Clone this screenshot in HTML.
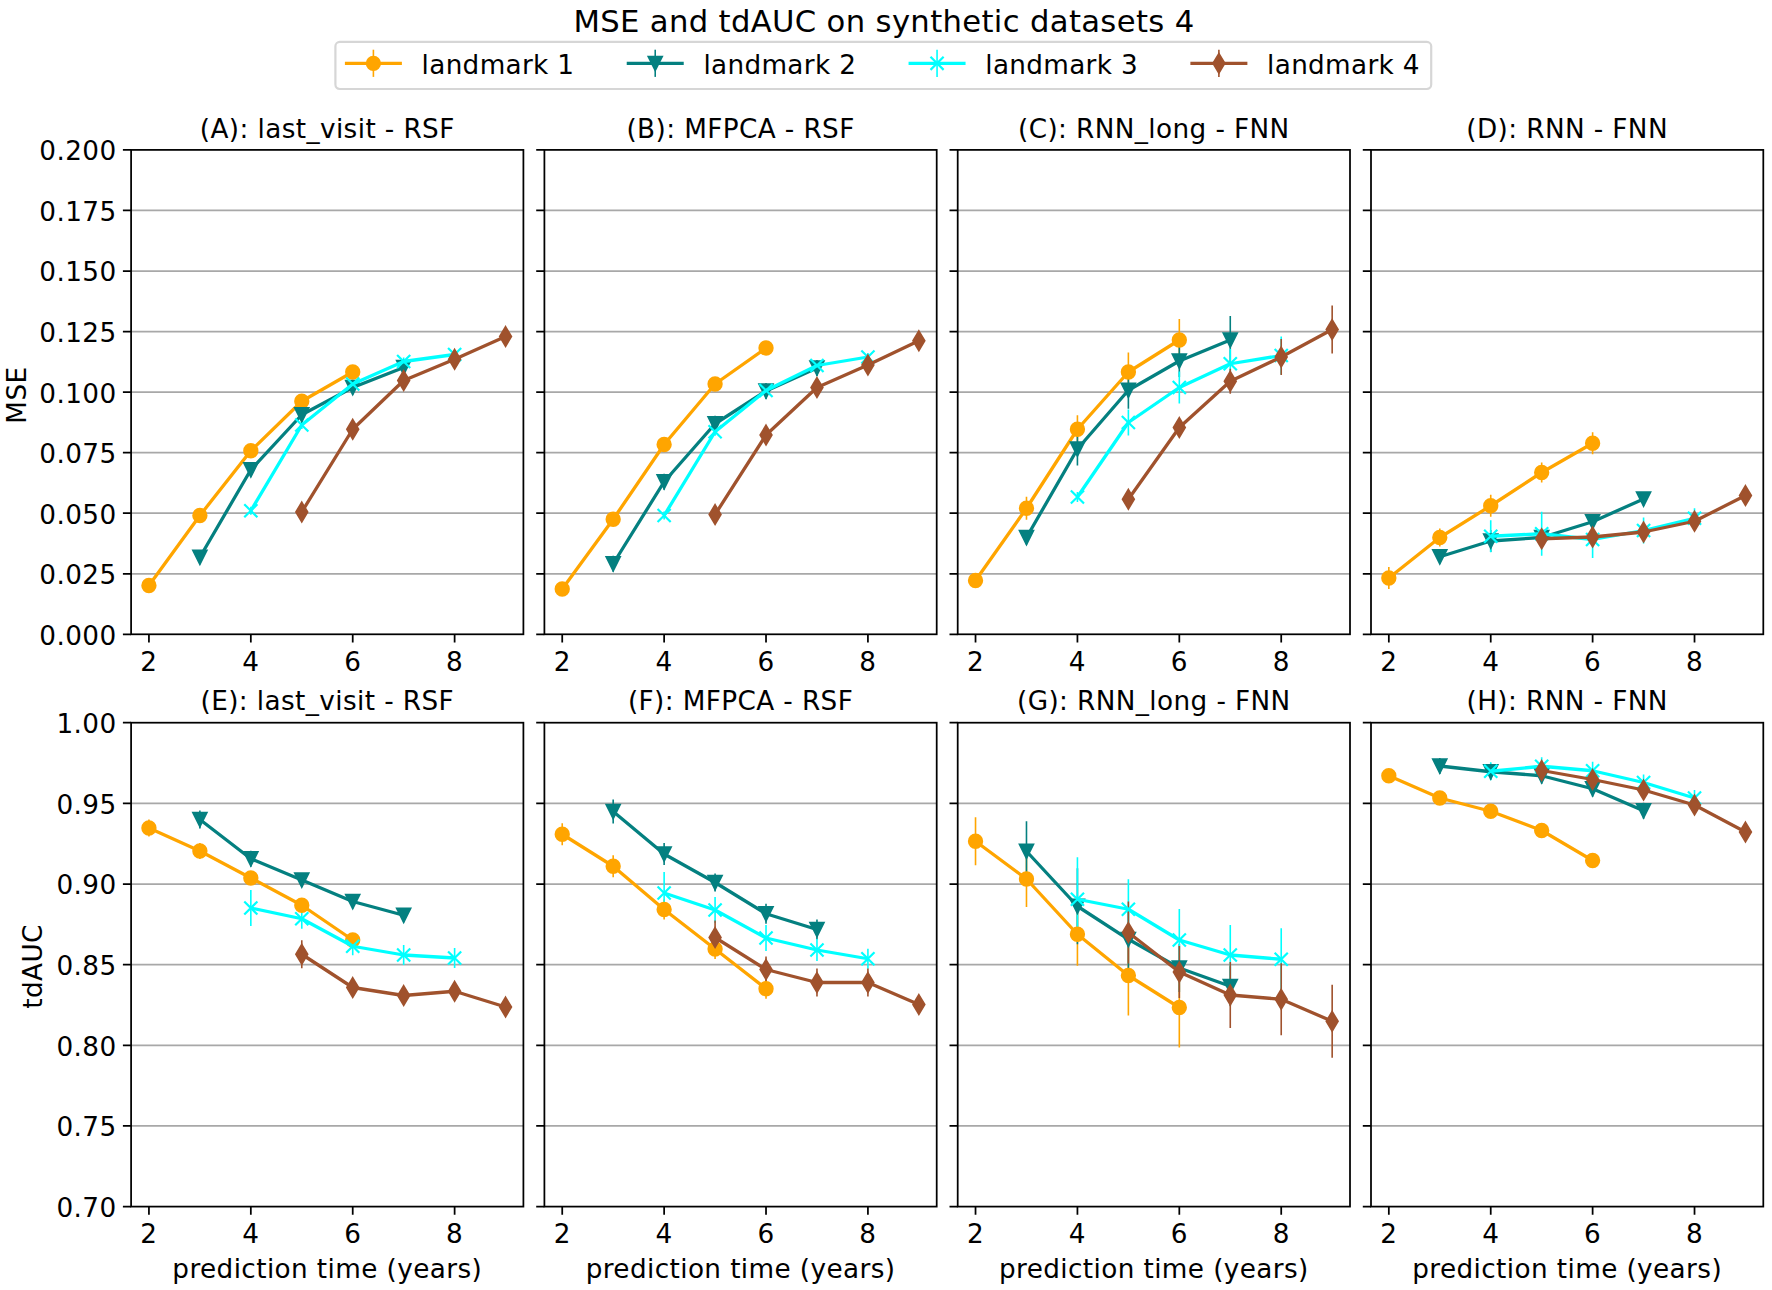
<!DOCTYPE html>
<html lang="en">
<head>
<meta charset="utf-8">
<title>MSE and tdAUC on synthetic datasets 4</title>
<style>
html,body{margin:0;padding:0;background:#fff;}
body{width:1772px;height:1290px;overflow:hidden;}
svg{display:block;}
</style>
</head>
<body>
<svg width="1772" height="1290" viewBox="0 0 1772 1290">
<rect width="1772" height="1290" fill="#fff"/>
<g font-family="'DejaVu Sans', 'Liberation Sans', sans-serif" fill="#000" letter-spacing="0.4">
<text x="883.95" y="32" font-size="30.66" text-anchor="middle" letter-spacing="0.34">MSE and tdAUC on synthetic datasets 4</text>
<rect x="335.4" y="41.9" width="1095.8" height="47.1" rx="4.4" ry="4.4" fill="#fff" fill-opacity="0.8" stroke="#cccccc" stroke-opacity="0.8" stroke-width="2.19"/>
<g>
<path d="M373.4 49.7V76.9" stroke="#ffa500" stroke-width="1.6" fill="none"/>
<path d="M344.9 63.3H401.9" stroke="#ffa500" stroke-width="3.29" fill="none"/>
<circle cx="373.4" cy="63.3" r="6.57" fill="#ffa500" stroke="#ffa500" stroke-width="2.19"/>
<text x="421.6" y="73.6" font-size="26.28" letter-spacing="0.33">landmark 1</text>
</g>
<g>
<path d="M655.23 49.7V76.9" stroke="#048080" stroke-width="1.6" fill="none"/>
<path d="M626.73 63.3H683.73" stroke="#048080" stroke-width="3.29" fill="none"/>
<polygon points="648.66,56.73 661.8,56.73 655.23,69.87" fill="#048080" stroke="#048080" stroke-width="2.19" stroke-linejoin="miter"/>
<text x="703.43" y="73.6" font-size="26.28" letter-spacing="0.33">landmark 2</text>
</g>
<g>
<path d="M937.06 49.7V76.9" stroke="#00ffff" stroke-width="1.6" fill="none"/>
<path d="M908.56 63.3H965.56" stroke="#00ffff" stroke-width="3.29" fill="none"/>
<path d="M930.49 56.73L943.63 69.87M930.49 69.87L943.63 56.73" stroke="#00ffff" stroke-width="2.19" fill="none"/>
<text x="985.26" y="73.6" font-size="26.28" letter-spacing="0.33">landmark 3</text>
</g>
<g>
<path d="M1218.89 49.7V76.9" stroke="#a0522d" stroke-width="1.6" fill="none"/>
<path d="M1190.39 63.3H1247.39" stroke="#a0522d" stroke-width="3.29" fill="none"/>
<polygon points="1218.89,54.01 1224.46,63.3 1218.89,72.59 1213.32,63.3" fill="#a0522d" stroke="#a0522d" stroke-width="2.19" stroke-linejoin="miter"/>
<text x="1267.09" y="73.6" font-size="26.28" letter-spacing="0.33">landmark 4</text>
</g>
<g>
<path d="M131.1 210.45H523.4M131.1 271H523.4M131.1 331.55H523.4M131.1 392.1H523.4M131.1 452.65H523.4M131.1 513.2H523.4M131.1 573.75H523.4" stroke="#a8a8a8" stroke-width="1.75" fill="none"/>
<path d="M131.1 149.9h-8.2M131.1 210.45h-8.2M131.1 271h-8.2M131.1 331.55h-8.2M131.1 392.1h-8.2M131.1 452.65h-8.2M131.1 513.2h-8.2M131.1 573.75h-8.2M131.1 634.3h-8.2M148.93 634.3v8.2M250.83 634.3v8.2M352.72 634.3v8.2M454.62 634.3v8.2" stroke="#000" stroke-width="1.75" fill="none"/>
<path d="M148.93 582.5V588.5M199.88 512.5V518.5M250.83 447.75V453.75M301.78 398.25V404.25M352.72 369V375" stroke="#ffa500" stroke-width="1.6" fill="none"/>
<path d="M199.88 550.25V564.25M250.83 462.75V476.75M301.78 407.75V421.75M352.72 380.5V394.5M403.67 360.5V374.5" stroke="#048080" stroke-width="1.6" fill="none"/>
<path d="M250.83 506.75V514.75M301.78 421V429M352.72 380V388M403.67 357.5V365.5M454.62 350.5V358.5" stroke="#00ffff" stroke-width="1.6" fill="none"/>
<path d="M301.78 506V518M352.72 423.25V435.25M403.67 374.5V386.5M454.62 353.25V365.25M505.57 330.5V342.5" stroke="#a0522d" stroke-width="1.6" fill="none"/>
<polyline points="148.93,585.5 199.88,515.5 250.83,450.75 301.78,401.25 352.72,372" stroke="#ffa500" stroke-width="3.29" fill="none" stroke-linejoin="round" stroke-linecap="butt"/>
<circle cx="148.93" cy="585.5" r="6.57" fill="#ffa500" stroke="#ffa500" stroke-width="2.19"/>
<circle cx="199.88" cy="515.5" r="6.57" fill="#ffa500" stroke="#ffa500" stroke-width="2.19"/>
<circle cx="250.83" cy="450.75" r="6.57" fill="#ffa500" stroke="#ffa500" stroke-width="2.19"/>
<circle cx="301.78" cy="401.25" r="6.57" fill="#ffa500" stroke="#ffa500" stroke-width="2.19"/>
<circle cx="352.72" cy="372" r="6.57" fill="#ffa500" stroke="#ffa500" stroke-width="2.19"/>
<polyline points="199.88,557.25 250.83,469.75 301.78,414.75 352.72,387.5 403.67,367.5" stroke="#048080" stroke-width="3.29" fill="none" stroke-linejoin="round" stroke-linecap="butt"/>
<polygon points="193.31,550.68 206.45,550.68 199.88,563.82" fill="#048080" stroke="#048080" stroke-width="2.19" stroke-linejoin="miter"/>
<polygon points="244.26,463.18 257.4,463.18 250.83,476.32" fill="#048080" stroke="#048080" stroke-width="2.19" stroke-linejoin="miter"/>
<polygon points="295.21,408.18 308.35,408.18 301.78,421.32" fill="#048080" stroke="#048080" stroke-width="2.19" stroke-linejoin="miter"/>
<polygon points="346.15,380.93 359.29,380.93 352.72,394.07" fill="#048080" stroke="#048080" stroke-width="2.19" stroke-linejoin="miter"/>
<polygon points="397.1,360.93 410.24,360.93 403.67,374.07" fill="#048080" stroke="#048080" stroke-width="2.19" stroke-linejoin="miter"/>
<polyline points="250.83,510.75 301.78,425 352.72,384 403.67,361.5 454.62,354.5" stroke="#00ffff" stroke-width="3.29" fill="none" stroke-linejoin="round" stroke-linecap="butt"/>
<path d="M244.26 504.18L257.4 517.32M244.26 517.32L257.4 504.18" stroke="#00ffff" stroke-width="2.19" fill="none"/>
<path d="M295.21 418.43L308.35 431.57M295.21 431.57L308.35 418.43" stroke="#00ffff" stroke-width="2.19" fill="none"/>
<path d="M346.15 377.43L359.29 390.57M346.15 390.57L359.29 377.43" stroke="#00ffff" stroke-width="2.19" fill="none"/>
<path d="M397.1 354.93L410.24 368.07M397.1 368.07L410.24 354.93" stroke="#00ffff" stroke-width="2.19" fill="none"/>
<path d="M448.05 347.93L461.19 361.07M448.05 361.07L461.19 347.93" stroke="#00ffff" stroke-width="2.19" fill="none"/>
<polyline points="301.78,512 352.72,429.25 403.67,380.5 454.62,359.25 505.57,336.5" stroke="#a0522d" stroke-width="3.29" fill="none" stroke-linejoin="round" stroke-linecap="butt"/>
<polygon points="301.78,502.71 307.35,512 301.78,521.29 296.2,512" fill="#a0522d" stroke="#a0522d" stroke-width="2.19" stroke-linejoin="miter"/>
<polygon points="352.72,419.96 358.3,429.25 352.72,438.54 347.15,429.25" fill="#a0522d" stroke="#a0522d" stroke-width="2.19" stroke-linejoin="miter"/>
<polygon points="403.67,371.21 409.25,380.5 403.67,389.79 398.1,380.5" fill="#a0522d" stroke="#a0522d" stroke-width="2.19" stroke-linejoin="miter"/>
<polygon points="454.62,349.96 460.19,359.25 454.62,368.54 449.05,359.25" fill="#a0522d" stroke="#a0522d" stroke-width="2.19" stroke-linejoin="miter"/>
<polygon points="505.57,327.21 511.14,336.5 505.57,345.79 499.99,336.5" fill="#a0522d" stroke="#a0522d" stroke-width="2.19" stroke-linejoin="miter"/>
<rect x="131.1" y="149.9" width="392.3" height="484.4" fill="none" stroke="#000" stroke-width="1.75"/>
<text x="327.25" y="137.5" font-size="26.28" text-anchor="middle" letter-spacing="0.4">(A): last_visit - RSF</text>
<text x="148.93" y="670.5" font-size="26.28" text-anchor="middle">2</text>
<text x="250.83" y="670.5" font-size="26.28" text-anchor="middle">4</text>
<text x="352.72" y="670.5" font-size="26.28" text-anchor="middle">6</text>
<text x="454.62" y="670.5" font-size="26.28" text-anchor="middle">8</text>
<text x="116.5" y="160.3" font-size="26.28" text-anchor="end">0.200</text>
<text x="116.5" y="220.85" font-size="26.28" text-anchor="end">0.175</text>
<text x="116.5" y="281.4" font-size="26.28" text-anchor="end">0.150</text>
<text x="116.5" y="341.95" font-size="26.28" text-anchor="end">0.125</text>
<text x="116.5" y="402.5" font-size="26.28" text-anchor="end">0.100</text>
<text x="116.5" y="463.05" font-size="26.28" text-anchor="end">0.075</text>
<text x="116.5" y="523.6" font-size="26.28" text-anchor="end">0.050</text>
<text x="116.5" y="584.15" font-size="26.28" text-anchor="end">0.025</text>
<text x="116.5" y="644.7" font-size="26.28" text-anchor="end">0.000</text>
<text transform="translate(25.9 395.1) rotate(-90)" font-size="26.28" text-anchor="middle">MSE</text>
</g>
<g>
<path d="M544.4 210.45H936.7M544.4 271H936.7M544.4 331.55H936.7M544.4 392.1H936.7M544.4 452.65H936.7M544.4 513.2H936.7M544.4 573.75H936.7" stroke="#a8a8a8" stroke-width="1.75" fill="none"/>
<path d="M544.4 149.9h-8.2M544.4 210.45h-8.2M544.4 271h-8.2M544.4 331.55h-8.2M544.4 392.1h-8.2M544.4 452.65h-8.2M544.4 513.2h-8.2M544.4 573.75h-8.2M544.4 634.3h-8.2M562.23 634.3v8.2M664.13 634.3v8.2M766.02 634.3v8.2M867.92 634.3v8.2" stroke="#000" stroke-width="1.75" fill="none"/>
<path d="M562.23 586V592M613.18 516.25V522.25M664.13 441.5V447.5M715.08 381V387M766.02 345V351" stroke="#ffa500" stroke-width="1.6" fill="none"/>
<path d="M613.18 555.75V571.75M664.13 473.75V489.75M715.08 415.75V431.75M766.02 383V399M816.97 360V376" stroke="#048080" stroke-width="1.6" fill="none"/>
<path d="M664.13 511.5V519.5M715.08 427.75V435.75M766.02 386.5V394.5M816.97 361.5V369.5M867.92 353V361" stroke="#00ffff" stroke-width="1.6" fill="none"/>
<path d="M715.08 508.5V520.5M766.02 429V441M816.97 381.5V393.5M867.92 359V371M918.87 334.75V346.75" stroke="#a0522d" stroke-width="1.6" fill="none"/>
<polyline points="562.23,589 613.18,519.25 664.13,444.5 715.08,384 766.02,348" stroke="#ffa500" stroke-width="3.29" fill="none" stroke-linejoin="round" stroke-linecap="butt"/>
<circle cx="562.23" cy="589" r="6.57" fill="#ffa500" stroke="#ffa500" stroke-width="2.19"/>
<circle cx="613.18" cy="519.25" r="6.57" fill="#ffa500" stroke="#ffa500" stroke-width="2.19"/>
<circle cx="664.13" cy="444.5" r="6.57" fill="#ffa500" stroke="#ffa500" stroke-width="2.19"/>
<circle cx="715.08" cy="384" r="6.57" fill="#ffa500" stroke="#ffa500" stroke-width="2.19"/>
<circle cx="766.02" cy="348" r="6.57" fill="#ffa500" stroke="#ffa500" stroke-width="2.19"/>
<polyline points="613.18,563.75 664.13,481.75 715.08,423.75 766.02,391 816.97,368" stroke="#048080" stroke-width="3.29" fill="none" stroke-linejoin="round" stroke-linecap="butt"/>
<polygon points="606.61,557.18 619.75,557.18 613.18,570.32" fill="#048080" stroke="#048080" stroke-width="2.19" stroke-linejoin="miter"/>
<polygon points="657.56,475.18 670.7,475.18 664.13,488.32" fill="#048080" stroke="#048080" stroke-width="2.19" stroke-linejoin="miter"/>
<polygon points="708.51,417.18 721.65,417.18 715.08,430.32" fill="#048080" stroke="#048080" stroke-width="2.19" stroke-linejoin="miter"/>
<polygon points="759.45,384.43 772.59,384.43 766.02,397.57" fill="#048080" stroke="#048080" stroke-width="2.19" stroke-linejoin="miter"/>
<polygon points="810.4,361.43 823.54,361.43 816.97,374.57" fill="#048080" stroke="#048080" stroke-width="2.19" stroke-linejoin="miter"/>
<polyline points="664.13,515.5 715.08,431.75 766.02,390.5 816.97,365.5 867.92,357" stroke="#00ffff" stroke-width="3.29" fill="none" stroke-linejoin="round" stroke-linecap="butt"/>
<path d="M657.56 508.93L670.7 522.07M657.56 522.07L670.7 508.93" stroke="#00ffff" stroke-width="2.19" fill="none"/>
<path d="M708.51 425.18L721.65 438.32M708.51 438.32L721.65 425.18" stroke="#00ffff" stroke-width="2.19" fill="none"/>
<path d="M759.45 383.93L772.59 397.07M759.45 397.07L772.59 383.93" stroke="#00ffff" stroke-width="2.19" fill="none"/>
<path d="M810.4 358.93L823.54 372.07M810.4 372.07L823.54 358.93" stroke="#00ffff" stroke-width="2.19" fill="none"/>
<path d="M861.35 350.43L874.49 363.57M861.35 363.57L874.49 350.43" stroke="#00ffff" stroke-width="2.19" fill="none"/>
<polyline points="715.08,514.5 766.02,435 816.97,387.5 867.92,365 918.87,340.75" stroke="#a0522d" stroke-width="3.29" fill="none" stroke-linejoin="round" stroke-linecap="butt"/>
<polygon points="715.08,505.21 720.65,514.5 715.08,523.79 709.5,514.5" fill="#a0522d" stroke="#a0522d" stroke-width="2.19" stroke-linejoin="miter"/>
<polygon points="766.02,425.71 771.6,435 766.02,444.29 760.45,435" fill="#a0522d" stroke="#a0522d" stroke-width="2.19" stroke-linejoin="miter"/>
<polygon points="816.97,378.21 822.55,387.5 816.97,396.79 811.4,387.5" fill="#a0522d" stroke="#a0522d" stroke-width="2.19" stroke-linejoin="miter"/>
<polygon points="867.92,355.71 873.49,365 867.92,374.29 862.35,365" fill="#a0522d" stroke="#a0522d" stroke-width="2.19" stroke-linejoin="miter"/>
<polygon points="918.87,331.46 924.44,340.75 918.87,350.04 913.29,340.75" fill="#a0522d" stroke="#a0522d" stroke-width="2.19" stroke-linejoin="miter"/>
<rect x="544.4" y="149.9" width="392.3" height="484.4" fill="none" stroke="#000" stroke-width="1.75"/>
<text x="740.55" y="137.5" font-size="26.28" text-anchor="middle" letter-spacing="0.4">(B): MFPCA - RSF</text>
<text x="562.23" y="670.5" font-size="26.28" text-anchor="middle">2</text>
<text x="664.13" y="670.5" font-size="26.28" text-anchor="middle">4</text>
<text x="766.02" y="670.5" font-size="26.28" text-anchor="middle">6</text>
<text x="867.92" y="670.5" font-size="26.28" text-anchor="middle">8</text>
</g>
<g>
<path d="M957.7 210.45H1350M957.7 271H1350M957.7 331.55H1350M957.7 392.1H1350M957.7 452.65H1350M957.7 513.2H1350M957.7 573.75H1350" stroke="#a8a8a8" stroke-width="1.75" fill="none"/>
<path d="M957.7 149.9h-8.2M957.7 210.45h-8.2M957.7 271h-8.2M957.7 331.55h-8.2M957.7 392.1h-8.2M957.7 452.65h-8.2M957.7 513.2h-8.2M957.7 573.75h-8.2M957.7 634.3h-8.2M975.53 634.3v8.2M1077.43 634.3v8.2M1179.32 634.3v8.2M1281.22 634.3v8.2" stroke="#000" stroke-width="1.75" fill="none"/>
<path d="M975.53 574.5V586.5M1026.48 496.75V519.75M1077.43 415.25V443.25M1128.38 352.5V391.5M1179.32 319V361" stroke="#ffa500" stroke-width="1.6" fill="none"/>
<path d="M1026.48 530.5V544.5M1077.43 432.5V465.5M1128.38 371.75V408.75M1179.32 345V377M1230.27 316V364" stroke="#048080" stroke-width="1.6" fill="none"/>
<path d="M1077.43 492V502M1128.38 409.5V435.5M1179.32 371.5V403.5M1230.27 348.75V378.75M1281.22 336.5V374.5" stroke="#00ffff" stroke-width="1.6" fill="none"/>
<path d="M1128.38 491.25V507.25M1179.32 418.5V436.5M1230.27 368.75V393.75M1281.22 339V375M1332.17 305.5V353.5" stroke="#a0522d" stroke-width="1.6" fill="none"/>
<polyline points="975.53,580.5 1026.48,508.25 1077.43,429.25 1128.38,372 1179.32,340" stroke="#ffa500" stroke-width="3.29" fill="none" stroke-linejoin="round" stroke-linecap="butt"/>
<circle cx="975.53" cy="580.5" r="6.57" fill="#ffa500" stroke="#ffa500" stroke-width="2.19"/>
<circle cx="1026.48" cy="508.25" r="6.57" fill="#ffa500" stroke="#ffa500" stroke-width="2.19"/>
<circle cx="1077.43" cy="429.25" r="6.57" fill="#ffa500" stroke="#ffa500" stroke-width="2.19"/>
<circle cx="1128.38" cy="372" r="6.57" fill="#ffa500" stroke="#ffa500" stroke-width="2.19"/>
<circle cx="1179.32" cy="340" r="6.57" fill="#ffa500" stroke="#ffa500" stroke-width="2.19"/>
<polyline points="1026.48,537.5 1077.43,449 1128.38,390.25 1179.32,361 1230.27,340" stroke="#048080" stroke-width="3.29" fill="none" stroke-linejoin="round" stroke-linecap="butt"/>
<polygon points="1019.91,530.93 1033.05,530.93 1026.48,544.07" fill="#048080" stroke="#048080" stroke-width="2.19" stroke-linejoin="miter"/>
<polygon points="1070.86,442.43 1084,442.43 1077.43,455.57" fill="#048080" stroke="#048080" stroke-width="2.19" stroke-linejoin="miter"/>
<polygon points="1121.81,383.68 1134.95,383.68 1128.38,396.82" fill="#048080" stroke="#048080" stroke-width="2.19" stroke-linejoin="miter"/>
<polygon points="1172.75,354.43 1185.89,354.43 1179.32,367.57" fill="#048080" stroke="#048080" stroke-width="2.19" stroke-linejoin="miter"/>
<polygon points="1223.7,333.43 1236.84,333.43 1230.27,346.57" fill="#048080" stroke="#048080" stroke-width="2.19" stroke-linejoin="miter"/>
<polyline points="1077.43,497 1128.38,422.5 1179.32,387.5 1230.27,363.75 1281.22,355.5" stroke="#00ffff" stroke-width="3.29" fill="none" stroke-linejoin="round" stroke-linecap="butt"/>
<path d="M1070.86 490.43L1084 503.57M1070.86 503.57L1084 490.43" stroke="#00ffff" stroke-width="2.19" fill="none"/>
<path d="M1121.81 415.93L1134.95 429.07M1121.81 429.07L1134.95 415.93" stroke="#00ffff" stroke-width="2.19" fill="none"/>
<path d="M1172.75 380.93L1185.89 394.07M1172.75 394.07L1185.89 380.93" stroke="#00ffff" stroke-width="2.19" fill="none"/>
<path d="M1223.7 357.18L1236.84 370.32M1223.7 370.32L1236.84 357.18" stroke="#00ffff" stroke-width="2.19" fill="none"/>
<path d="M1274.65 348.93L1287.79 362.07M1274.65 362.07L1287.79 348.93" stroke="#00ffff" stroke-width="2.19" fill="none"/>
<polyline points="1128.38,499.25 1179.32,427.5 1230.27,381.25 1281.22,357 1332.17,329.5" stroke="#a0522d" stroke-width="3.29" fill="none" stroke-linejoin="round" stroke-linecap="butt"/>
<polygon points="1128.38,489.96 1133.95,499.25 1128.38,508.54 1122.8,499.25" fill="#a0522d" stroke="#a0522d" stroke-width="2.19" stroke-linejoin="miter"/>
<polygon points="1179.32,418.21 1184.9,427.5 1179.32,436.79 1173.75,427.5" fill="#a0522d" stroke="#a0522d" stroke-width="2.19" stroke-linejoin="miter"/>
<polygon points="1230.27,371.96 1235.85,381.25 1230.27,390.54 1224.7,381.25" fill="#a0522d" stroke="#a0522d" stroke-width="2.19" stroke-linejoin="miter"/>
<polygon points="1281.22,347.71 1286.79,357 1281.22,366.29 1275.65,357" fill="#a0522d" stroke="#a0522d" stroke-width="2.19" stroke-linejoin="miter"/>
<polygon points="1332.17,320.21 1337.74,329.5 1332.17,338.79 1326.59,329.5" fill="#a0522d" stroke="#a0522d" stroke-width="2.19" stroke-linejoin="miter"/>
<rect x="957.7" y="149.9" width="392.3" height="484.4" fill="none" stroke="#000" stroke-width="1.75"/>
<text x="1153.85" y="137.5" font-size="26.28" text-anchor="middle" letter-spacing="0.4">(C): RNN_long - FNN</text>
<text x="975.53" y="670.5" font-size="26.28" text-anchor="middle">2</text>
<text x="1077.43" y="670.5" font-size="26.28" text-anchor="middle">4</text>
<text x="1179.32" y="670.5" font-size="26.28" text-anchor="middle">6</text>
<text x="1281.22" y="670.5" font-size="26.28" text-anchor="middle">8</text>
</g>
<g>
<path d="M1371 210.45H1763.3M1371 271H1763.3M1371 331.55H1763.3M1371 392.1H1763.3M1371 452.65H1763.3M1371 513.2H1763.3M1371 573.75H1763.3" stroke="#a8a8a8" stroke-width="1.75" fill="none"/>
<path d="M1371 149.9h-8.2M1371 210.45h-8.2M1371 271h-8.2M1371 331.55h-8.2M1371 392.1h-8.2M1371 452.65h-8.2M1371 513.2h-8.2M1371 573.75h-8.2M1371 634.3h-8.2M1388.83 634.3v8.2M1490.73 634.3v8.2M1592.62 634.3v8.2M1694.52 634.3v8.2" stroke="#000" stroke-width="1.75" fill="none"/>
<path d="M1388.83 567V589M1439.78 528.5V546.5M1490.73 494.75V516.75M1541.68 462.5V482.5M1592.62 432.25V454.25" stroke="#ffa500" stroke-width="1.6" fill="none"/>
<path d="M1439.78 549.75V563.75M1490.73 530V552M1541.68 530.5V544.5M1592.62 514.75V528.75M1643.57 491.9V505.9" stroke="#048080" stroke-width="1.6" fill="none"/>
<path d="M1490.73 520.25V552.25M1541.68 511.75V555.75M1592.62 521V558M1643.57 517.5V543.5M1694.52 508.25V528.25" stroke="#00ffff" stroke-width="1.6" fill="none"/>
<path d="M1541.68 529.75V547.75M1592.62 528V546M1643.57 523V541M1694.52 512.25V530.25M1745.47 486.5V504.5" stroke="#a0522d" stroke-width="1.6" fill="none"/>
<polyline points="1388.83,578 1439.78,537.5 1490.73,505.75 1541.68,472.5 1592.62,443.25" stroke="#ffa500" stroke-width="3.29" fill="none" stroke-linejoin="round" stroke-linecap="butt"/>
<circle cx="1388.83" cy="578" r="6.57" fill="#ffa500" stroke="#ffa500" stroke-width="2.19"/>
<circle cx="1439.78" cy="537.5" r="6.57" fill="#ffa500" stroke="#ffa500" stroke-width="2.19"/>
<circle cx="1490.73" cy="505.75" r="6.57" fill="#ffa500" stroke="#ffa500" stroke-width="2.19"/>
<circle cx="1541.68" cy="472.5" r="6.57" fill="#ffa500" stroke="#ffa500" stroke-width="2.19"/>
<circle cx="1592.62" cy="443.25" r="6.57" fill="#ffa500" stroke="#ffa500" stroke-width="2.19"/>
<polyline points="1439.78,556.75 1490.73,541 1541.68,537.5 1592.62,521.75 1643.57,498.9" stroke="#048080" stroke-width="3.29" fill="none" stroke-linejoin="round" stroke-linecap="butt"/>
<polygon points="1433.21,550.18 1446.35,550.18 1439.78,563.32" fill="#048080" stroke="#048080" stroke-width="2.19" stroke-linejoin="miter"/>
<polygon points="1484.16,534.43 1497.3,534.43 1490.73,547.57" fill="#048080" stroke="#048080" stroke-width="2.19" stroke-linejoin="miter"/>
<polygon points="1535.11,530.93 1548.25,530.93 1541.68,544.07" fill="#048080" stroke="#048080" stroke-width="2.19" stroke-linejoin="miter"/>
<polygon points="1586.05,515.18 1599.19,515.18 1592.62,528.32" fill="#048080" stroke="#048080" stroke-width="2.19" stroke-linejoin="miter"/>
<polygon points="1637,492.33 1650.14,492.33 1643.57,505.47" fill="#048080" stroke="#048080" stroke-width="2.19" stroke-linejoin="miter"/>
<polyline points="1490.73,536.25 1541.68,533.75 1592.62,539.5 1643.57,530.5 1694.52,518.25" stroke="#00ffff" stroke-width="3.29" fill="none" stroke-linejoin="round" stroke-linecap="butt"/>
<path d="M1484.16 529.68L1497.3 542.82M1484.16 542.82L1497.3 529.68" stroke="#00ffff" stroke-width="2.19" fill="none"/>
<path d="M1535.11 527.18L1548.25 540.32M1535.11 540.32L1548.25 527.18" stroke="#00ffff" stroke-width="2.19" fill="none"/>
<path d="M1586.05 532.93L1599.19 546.07M1586.05 546.07L1599.19 532.93" stroke="#00ffff" stroke-width="2.19" fill="none"/>
<path d="M1637 523.93L1650.14 537.07M1637 537.07L1650.14 523.93" stroke="#00ffff" stroke-width="2.19" fill="none"/>
<path d="M1687.95 511.68L1701.09 524.82M1687.95 524.82L1701.09 511.68" stroke="#00ffff" stroke-width="2.19" fill="none"/>
<polyline points="1541.68,538.75 1592.62,537 1643.57,532 1694.52,521.25 1745.47,495.5" stroke="#a0522d" stroke-width="3.29" fill="none" stroke-linejoin="round" stroke-linecap="butt"/>
<polygon points="1541.68,529.46 1547.25,538.75 1541.68,548.04 1536.1,538.75" fill="#a0522d" stroke="#a0522d" stroke-width="2.19" stroke-linejoin="miter"/>
<polygon points="1592.62,527.71 1598.2,537 1592.62,546.29 1587.05,537" fill="#a0522d" stroke="#a0522d" stroke-width="2.19" stroke-linejoin="miter"/>
<polygon points="1643.57,522.71 1649.15,532 1643.57,541.29 1638,532" fill="#a0522d" stroke="#a0522d" stroke-width="2.19" stroke-linejoin="miter"/>
<polygon points="1694.52,511.96 1700.09,521.25 1694.52,530.54 1688.95,521.25" fill="#a0522d" stroke="#a0522d" stroke-width="2.19" stroke-linejoin="miter"/>
<polygon points="1745.47,486.21 1751.04,495.5 1745.47,504.79 1739.89,495.5" fill="#a0522d" stroke="#a0522d" stroke-width="2.19" stroke-linejoin="miter"/>
<rect x="1371" y="149.9" width="392.3" height="484.4" fill="none" stroke="#000" stroke-width="1.75"/>
<text x="1567.15" y="137.5" font-size="26.28" text-anchor="middle" letter-spacing="0.4">(D): RNN - FNN</text>
<text x="1388.83" y="670.5" font-size="26.28" text-anchor="middle">2</text>
<text x="1490.73" y="670.5" font-size="26.28" text-anchor="middle">4</text>
<text x="1592.62" y="670.5" font-size="26.28" text-anchor="middle">6</text>
<text x="1694.52" y="670.5" font-size="26.28" text-anchor="middle">8</text>
</g>
<g>
<path d="M131.1 803.35H523.4M131.1 884H523.4M131.1 964.65H523.4M131.1 1045.3H523.4M131.1 1125.95H523.4" stroke="#a8a8a8" stroke-width="1.75" fill="none"/>
<path d="M131.1 722.7h-8.2M131.1 803.35h-8.2M131.1 884h-8.2M131.1 964.65h-8.2M131.1 1045.3h-8.2M131.1 1125.95h-8.2M131.1 1206.6h-8.2M148.93 1206.6v8.2M250.83 1206.6v8.2M352.72 1206.6v8.2M454.62 1206.6v8.2" stroke="#000" stroke-width="1.75" fill="none"/>
<path d="M148.93 819.5V836.5M199.88 843V859M250.83 871V885M301.78 898.25V912.25M352.72 933V947" stroke="#ffa500" stroke-width="1.6" fill="none"/>
<path d="M199.88 810.5V828.5M250.83 850.75V866.75M301.78 873V887M352.72 894.5V908.5M403.67 908.25V922.25" stroke="#048080" stroke-width="1.6" fill="none"/>
<path d="M250.83 890V926M301.78 908.75V928.75M352.72 937.25V955.25M403.67 945V965M454.62 948V968" stroke="#00ffff" stroke-width="1.6" fill="none"/>
<path d="M301.78 940.25V968.25M352.72 979.5V995.5M403.67 987.5V1003.5M454.62 983.25V999.25M505.57 999V1015" stroke="#a0522d" stroke-width="1.6" fill="none"/>
<polyline points="148.93,828 199.88,851 250.83,878 301.78,905.25 352.72,940" stroke="#ffa500" stroke-width="3.29" fill="none" stroke-linejoin="round" stroke-linecap="butt"/>
<circle cx="148.93" cy="828" r="6.57" fill="#ffa500" stroke="#ffa500" stroke-width="2.19"/>
<circle cx="199.88" cy="851" r="6.57" fill="#ffa500" stroke="#ffa500" stroke-width="2.19"/>
<circle cx="250.83" cy="878" r="6.57" fill="#ffa500" stroke="#ffa500" stroke-width="2.19"/>
<circle cx="301.78" cy="905.25" r="6.57" fill="#ffa500" stroke="#ffa500" stroke-width="2.19"/>
<circle cx="352.72" cy="940" r="6.57" fill="#ffa500" stroke="#ffa500" stroke-width="2.19"/>
<polyline points="199.88,819.5 250.83,858.75 301.78,880 352.72,901.5 403.67,915.25" stroke="#048080" stroke-width="3.29" fill="none" stroke-linejoin="round" stroke-linecap="butt"/>
<polygon points="193.31,812.93 206.45,812.93 199.88,826.07" fill="#048080" stroke="#048080" stroke-width="2.19" stroke-linejoin="miter"/>
<polygon points="244.26,852.18 257.4,852.18 250.83,865.32" fill="#048080" stroke="#048080" stroke-width="2.19" stroke-linejoin="miter"/>
<polygon points="295.21,873.43 308.35,873.43 301.78,886.57" fill="#048080" stroke="#048080" stroke-width="2.19" stroke-linejoin="miter"/>
<polygon points="346.15,894.93 359.29,894.93 352.72,908.07" fill="#048080" stroke="#048080" stroke-width="2.19" stroke-linejoin="miter"/>
<polygon points="397.1,908.68 410.24,908.68 403.67,921.82" fill="#048080" stroke="#048080" stroke-width="2.19" stroke-linejoin="miter"/>
<polyline points="250.83,908 301.78,918.75 352.72,946.25 403.67,955 454.62,958" stroke="#00ffff" stroke-width="3.29" fill="none" stroke-linejoin="round" stroke-linecap="butt"/>
<path d="M244.26 901.43L257.4 914.57M244.26 914.57L257.4 901.43" stroke="#00ffff" stroke-width="2.19" fill="none"/>
<path d="M295.21 912.18L308.35 925.32M295.21 925.32L308.35 912.18" stroke="#00ffff" stroke-width="2.19" fill="none"/>
<path d="M346.15 939.68L359.29 952.82M346.15 952.82L359.29 939.68" stroke="#00ffff" stroke-width="2.19" fill="none"/>
<path d="M397.1 948.43L410.24 961.57M397.1 961.57L410.24 948.43" stroke="#00ffff" stroke-width="2.19" fill="none"/>
<path d="M448.05 951.43L461.19 964.57M448.05 964.57L461.19 951.43" stroke="#00ffff" stroke-width="2.19" fill="none"/>
<polyline points="301.78,954.25 352.72,987.5 403.67,995.5 454.62,991.25 505.57,1007" stroke="#a0522d" stroke-width="3.29" fill="none" stroke-linejoin="round" stroke-linecap="butt"/>
<polygon points="301.78,944.96 307.35,954.25 301.78,963.54 296.2,954.25" fill="#a0522d" stroke="#a0522d" stroke-width="2.19" stroke-linejoin="miter"/>
<polygon points="352.72,978.21 358.3,987.5 352.72,996.79 347.15,987.5" fill="#a0522d" stroke="#a0522d" stroke-width="2.19" stroke-linejoin="miter"/>
<polygon points="403.67,986.21 409.25,995.5 403.67,1004.79 398.1,995.5" fill="#a0522d" stroke="#a0522d" stroke-width="2.19" stroke-linejoin="miter"/>
<polygon points="454.62,981.96 460.19,991.25 454.62,1000.54 449.05,991.25" fill="#a0522d" stroke="#a0522d" stroke-width="2.19" stroke-linejoin="miter"/>
<polygon points="505.57,997.71 511.14,1007 505.57,1016.29 499.99,1007" fill="#a0522d" stroke="#a0522d" stroke-width="2.19" stroke-linejoin="miter"/>
<rect x="131.1" y="722.7" width="392.3" height="483.9" fill="none" stroke="#000" stroke-width="1.75"/>
<text x="327.25" y="710.3" font-size="26.28" text-anchor="middle" letter-spacing="0.4">(E): last_visit - RSF</text>
<text x="148.93" y="1242.8" font-size="26.28" text-anchor="middle">2</text>
<text x="250.83" y="1242.8" font-size="26.28" text-anchor="middle">4</text>
<text x="352.72" y="1242.8" font-size="26.28" text-anchor="middle">6</text>
<text x="454.62" y="1242.8" font-size="26.28" text-anchor="middle">8</text>
<text x="116.5" y="733.1" font-size="26.28" text-anchor="end">1.00</text>
<text x="116.5" y="813.75" font-size="26.28" text-anchor="end">0.95</text>
<text x="116.5" y="894.4" font-size="26.28" text-anchor="end">0.90</text>
<text x="116.5" y="975.05" font-size="26.28" text-anchor="end">0.85</text>
<text x="116.5" y="1055.7" font-size="26.28" text-anchor="end">0.80</text>
<text x="116.5" y="1136.35" font-size="26.28" text-anchor="end">0.75</text>
<text x="116.5" y="1217" font-size="26.28" text-anchor="end">0.70</text>
<text transform="translate(42.2 966.45) rotate(-90)" font-size="26.28" text-anchor="middle">tdAUC</text>
<text x="327.25" y="1277.5" font-size="26.28" text-anchor="middle">prediction time (years)</text>
</g>
<g>
<path d="M544.4 803.35H936.7M544.4 884H936.7M544.4 964.65H936.7M544.4 1045.3H936.7M544.4 1125.95H936.7" stroke="#a8a8a8" stroke-width="1.75" fill="none"/>
<path d="M544.4 722.7h-8.2M544.4 803.35h-8.2M544.4 884h-8.2M544.4 964.65h-8.2M544.4 1045.3h-8.2M544.4 1125.95h-8.2M544.4 1206.6h-8.2M562.23 1206.6v8.2M664.13 1206.6v8.2M766.02 1206.6v8.2M867.92 1206.6v8.2" stroke="#000" stroke-width="1.75" fill="none"/>
<path d="M562.23 823.25V845.25M613.18 855.25V877.25M664.13 899.5V919.5M715.08 939V959M766.02 978.75V998.75" stroke="#ffa500" stroke-width="1.6" fill="none"/>
<path d="M613.18 799.5V823.5M664.13 843V865M715.08 873.5V891.5M766.02 903.75V923.75M816.97 919.5V939.5" stroke="#048080" stroke-width="1.6" fill="none"/>
<path d="M664.13 872V914M715.08 897V923M766.02 925V951M816.97 939V961M867.92 948.75V968.75" stroke="#00ffff" stroke-width="1.6" fill="none"/>
<path d="M715.08 920.5V954.5M766.02 956.5V982.5M816.97 968.5V996.5M867.92 968.5V996.5M918.87 996.5V1012.5" stroke="#a0522d" stroke-width="1.6" fill="none"/>
<polyline points="562.23,834.25 613.18,866.25 664.13,909.5 715.08,949 766.02,988.75" stroke="#ffa500" stroke-width="3.29" fill="none" stroke-linejoin="round" stroke-linecap="butt"/>
<circle cx="562.23" cy="834.25" r="6.57" fill="#ffa500" stroke="#ffa500" stroke-width="2.19"/>
<circle cx="613.18" cy="866.25" r="6.57" fill="#ffa500" stroke="#ffa500" stroke-width="2.19"/>
<circle cx="664.13" cy="909.5" r="6.57" fill="#ffa500" stroke="#ffa500" stroke-width="2.19"/>
<circle cx="715.08" cy="949" r="6.57" fill="#ffa500" stroke="#ffa500" stroke-width="2.19"/>
<circle cx="766.02" cy="988.75" r="6.57" fill="#ffa500" stroke="#ffa500" stroke-width="2.19"/>
<polyline points="613.18,811.5 664.13,854 715.08,882.5 766.02,913.75 816.97,929.5" stroke="#048080" stroke-width="3.29" fill="none" stroke-linejoin="round" stroke-linecap="butt"/>
<polygon points="606.61,804.93 619.75,804.93 613.18,818.07" fill="#048080" stroke="#048080" stroke-width="2.19" stroke-linejoin="miter"/>
<polygon points="657.56,847.43 670.7,847.43 664.13,860.57" fill="#048080" stroke="#048080" stroke-width="2.19" stroke-linejoin="miter"/>
<polygon points="708.51,875.93 721.65,875.93 715.08,889.07" fill="#048080" stroke="#048080" stroke-width="2.19" stroke-linejoin="miter"/>
<polygon points="759.45,907.18 772.59,907.18 766.02,920.32" fill="#048080" stroke="#048080" stroke-width="2.19" stroke-linejoin="miter"/>
<polygon points="810.4,922.93 823.54,922.93 816.97,936.07" fill="#048080" stroke="#048080" stroke-width="2.19" stroke-linejoin="miter"/>
<polyline points="664.13,893 715.08,910 766.02,938 816.97,950 867.92,958.75" stroke="#00ffff" stroke-width="3.29" fill="none" stroke-linejoin="round" stroke-linecap="butt"/>
<path d="M657.56 886.43L670.7 899.57M657.56 899.57L670.7 886.43" stroke="#00ffff" stroke-width="2.19" fill="none"/>
<path d="M708.51 903.43L721.65 916.57M708.51 916.57L721.65 903.43" stroke="#00ffff" stroke-width="2.19" fill="none"/>
<path d="M759.45 931.43L772.59 944.57M759.45 944.57L772.59 931.43" stroke="#00ffff" stroke-width="2.19" fill="none"/>
<path d="M810.4 943.43L823.54 956.57M810.4 956.57L823.54 943.43" stroke="#00ffff" stroke-width="2.19" fill="none"/>
<path d="M861.35 952.18L874.49 965.32M861.35 965.32L874.49 952.18" stroke="#00ffff" stroke-width="2.19" fill="none"/>
<polyline points="715.08,937.5 766.02,969.5 816.97,982.5 867.92,982.5 918.87,1004.5" stroke="#a0522d" stroke-width="3.29" fill="none" stroke-linejoin="round" stroke-linecap="butt"/>
<polygon points="715.08,928.21 720.65,937.5 715.08,946.79 709.5,937.5" fill="#a0522d" stroke="#a0522d" stroke-width="2.19" stroke-linejoin="miter"/>
<polygon points="766.02,960.21 771.6,969.5 766.02,978.79 760.45,969.5" fill="#a0522d" stroke="#a0522d" stroke-width="2.19" stroke-linejoin="miter"/>
<polygon points="816.97,973.21 822.55,982.5 816.97,991.79 811.4,982.5" fill="#a0522d" stroke="#a0522d" stroke-width="2.19" stroke-linejoin="miter"/>
<polygon points="867.92,973.21 873.49,982.5 867.92,991.79 862.35,982.5" fill="#a0522d" stroke="#a0522d" stroke-width="2.19" stroke-linejoin="miter"/>
<polygon points="918.87,995.21 924.44,1004.5 918.87,1013.79 913.29,1004.5" fill="#a0522d" stroke="#a0522d" stroke-width="2.19" stroke-linejoin="miter"/>
<rect x="544.4" y="722.7" width="392.3" height="483.9" fill="none" stroke="#000" stroke-width="1.75"/>
<text x="740.55" y="710.3" font-size="26.28" text-anchor="middle" letter-spacing="0.4">(F): MFPCA - RSF</text>
<text x="562.23" y="1242.8" font-size="26.28" text-anchor="middle">2</text>
<text x="664.13" y="1242.8" font-size="26.28" text-anchor="middle">4</text>
<text x="766.02" y="1242.8" font-size="26.28" text-anchor="middle">6</text>
<text x="867.92" y="1242.8" font-size="26.28" text-anchor="middle">8</text>
<text x="740.55" y="1277.5" font-size="26.28" text-anchor="middle">prediction time (years)</text>
</g>
<g>
<path d="M957.7 803.35H1350M957.7 884H1350M957.7 964.65H1350M957.7 1045.3H1350M957.7 1125.95H1350" stroke="#a8a8a8" stroke-width="1.75" fill="none"/>
<path d="M957.7 722.7h-8.2M957.7 803.35h-8.2M957.7 884h-8.2M957.7 964.65h-8.2M957.7 1045.3h-8.2M957.7 1125.95h-8.2M957.7 1206.6h-8.2M975.53 1206.6v8.2M1077.43 1206.6v8.2M1179.32 1206.6v8.2M1281.22 1206.6v8.2" stroke="#000" stroke-width="1.75" fill="none"/>
<path d="M975.53 817.25V865.25M1026.48 851V907M1077.43 902.75V965.75M1128.38 935.5V1015.5M1179.32 967.5V1047.5" stroke="#ffa500" stroke-width="1.6" fill="none"/>
<path d="M1026.48 821.25V881.25M1077.43 868.25V944.25M1128.38 909.3V969.3M1179.32 944V992M1230.27 966.3V1006.3" stroke="#048080" stroke-width="1.6" fill="none"/>
<path d="M1077.43 857.25V941.25M1128.38 879.25V939.25M1179.32 909V971M1230.27 925V985M1281.22 928.25V990.25" stroke="#00ffff" stroke-width="1.6" fill="none"/>
<path d="M1128.38 901.5V963.5M1179.32 946V998M1230.27 962V1028M1281.22 963.25V1035.25M1332.17 984.75V1057.75" stroke="#a0522d" stroke-width="1.6" fill="none"/>
<polyline points="975.53,841.25 1026.48,879 1077.43,934.25 1128.38,975.5 1179.32,1007.5" stroke="#ffa500" stroke-width="3.29" fill="none" stroke-linejoin="round" stroke-linecap="butt"/>
<circle cx="975.53" cy="841.25" r="6.57" fill="#ffa500" stroke="#ffa500" stroke-width="2.19"/>
<circle cx="1026.48" cy="879" r="6.57" fill="#ffa500" stroke="#ffa500" stroke-width="2.19"/>
<circle cx="1077.43" cy="934.25" r="6.57" fill="#ffa500" stroke="#ffa500" stroke-width="2.19"/>
<circle cx="1128.38" cy="975.5" r="6.57" fill="#ffa500" stroke="#ffa500" stroke-width="2.19"/>
<circle cx="1179.32" cy="1007.5" r="6.57" fill="#ffa500" stroke="#ffa500" stroke-width="2.19"/>
<polyline points="1026.48,851.25 1077.43,906.25 1128.38,939.3 1179.32,968 1230.27,986.3" stroke="#048080" stroke-width="3.29" fill="none" stroke-linejoin="round" stroke-linecap="butt"/>
<polygon points="1019.91,844.68 1033.05,844.68 1026.48,857.82" fill="#048080" stroke="#048080" stroke-width="2.19" stroke-linejoin="miter"/>
<polygon points="1070.86,899.68 1084,899.68 1077.43,912.82" fill="#048080" stroke="#048080" stroke-width="2.19" stroke-linejoin="miter"/>
<polygon points="1121.81,932.73 1134.95,932.73 1128.38,945.87" fill="#048080" stroke="#048080" stroke-width="2.19" stroke-linejoin="miter"/>
<polygon points="1172.75,961.43 1185.89,961.43 1179.32,974.57" fill="#048080" stroke="#048080" stroke-width="2.19" stroke-linejoin="miter"/>
<polygon points="1223.7,979.73 1236.84,979.73 1230.27,992.87" fill="#048080" stroke="#048080" stroke-width="2.19" stroke-linejoin="miter"/>
<polyline points="1077.43,899.25 1128.38,909.25 1179.32,940 1230.27,955 1281.22,959.25" stroke="#00ffff" stroke-width="3.29" fill="none" stroke-linejoin="round" stroke-linecap="butt"/>
<path d="M1070.86 892.68L1084 905.82M1070.86 905.82L1084 892.68" stroke="#00ffff" stroke-width="2.19" fill="none"/>
<path d="M1121.81 902.68L1134.95 915.82M1121.81 915.82L1134.95 902.68" stroke="#00ffff" stroke-width="2.19" fill="none"/>
<path d="M1172.75 933.43L1185.89 946.57M1172.75 946.57L1185.89 933.43" stroke="#00ffff" stroke-width="2.19" fill="none"/>
<path d="M1223.7 948.43L1236.84 961.57M1223.7 961.57L1236.84 948.43" stroke="#00ffff" stroke-width="2.19" fill="none"/>
<path d="M1274.65 952.68L1287.79 965.82M1274.65 965.82L1287.79 952.68" stroke="#00ffff" stroke-width="2.19" fill="none"/>
<polyline points="1128.38,932.5 1179.32,972 1230.27,995 1281.22,999.25 1332.17,1021.25" stroke="#a0522d" stroke-width="3.29" fill="none" stroke-linejoin="round" stroke-linecap="butt"/>
<polygon points="1128.38,923.21 1133.95,932.5 1128.38,941.79 1122.8,932.5" fill="#a0522d" stroke="#a0522d" stroke-width="2.19" stroke-linejoin="miter"/>
<polygon points="1179.32,962.71 1184.9,972 1179.32,981.29 1173.75,972" fill="#a0522d" stroke="#a0522d" stroke-width="2.19" stroke-linejoin="miter"/>
<polygon points="1230.27,985.71 1235.85,995 1230.27,1004.29 1224.7,995" fill="#a0522d" stroke="#a0522d" stroke-width="2.19" stroke-linejoin="miter"/>
<polygon points="1281.22,989.96 1286.79,999.25 1281.22,1008.54 1275.65,999.25" fill="#a0522d" stroke="#a0522d" stroke-width="2.19" stroke-linejoin="miter"/>
<polygon points="1332.17,1011.96 1337.74,1021.25 1332.17,1030.54 1326.59,1021.25" fill="#a0522d" stroke="#a0522d" stroke-width="2.19" stroke-linejoin="miter"/>
<rect x="957.7" y="722.7" width="392.3" height="483.9" fill="none" stroke="#000" stroke-width="1.75"/>
<text x="1153.85" y="710.3" font-size="26.28" text-anchor="middle" letter-spacing="0.4">(G): RNN_long - FNN</text>
<text x="975.53" y="1242.8" font-size="26.28" text-anchor="middle">2</text>
<text x="1077.43" y="1242.8" font-size="26.28" text-anchor="middle">4</text>
<text x="1179.32" y="1242.8" font-size="26.28" text-anchor="middle">6</text>
<text x="1281.22" y="1242.8" font-size="26.28" text-anchor="middle">8</text>
<text x="1153.85" y="1277.5" font-size="26.28" text-anchor="middle">prediction time (years)</text>
</g>
<g>
<path d="M1371 803.35H1763.3M1371 884H1763.3M1371 964.65H1763.3M1371 1045.3H1763.3M1371 1125.95H1763.3" stroke="#a8a8a8" stroke-width="1.75" fill="none"/>
<path d="M1371 722.7h-8.2M1371 803.35h-8.2M1371 884h-8.2M1371 964.65h-8.2M1371 1045.3h-8.2M1371 1125.95h-8.2M1371 1206.6h-8.2M1388.83 1206.6v8.2M1490.73 1206.6v8.2M1592.62 1206.6v8.2M1694.52 1206.6v8.2" stroke="#000" stroke-width="1.75" fill="none"/>
<path d="M1388.83 771.75V779.75M1439.78 794V802M1490.73 807.25V815.25M1541.68 826.5V834.5M1592.62 856.5V864.5" stroke="#ffa500" stroke-width="1.6" fill="none"/>
<path d="M1439.78 758V774M1490.73 763.75V779.75M1541.68 767.75V783.75M1592.62 780.75V796.75M1643.57 802.75V818.75" stroke="#048080" stroke-width="1.6" fill="none"/>
<path d="M1490.73 762.25V780.25M1541.68 757.25V775.25M1592.62 761.75V779.75M1643.57 774.5V790.5M1694.52 790V806" stroke="#00ffff" stroke-width="1.6" fill="none"/>
<path d="M1541.68 762.5V778.5M1592.62 771.5V787.5M1643.57 782V798M1694.52 797V813M1745.47 824V840" stroke="#a0522d" stroke-width="1.6" fill="none"/>
<polyline points="1388.83,775.75 1439.78,798 1490.73,811.25 1541.68,830.5 1592.62,860.5" stroke="#ffa500" stroke-width="3.29" fill="none" stroke-linejoin="round" stroke-linecap="butt"/>
<circle cx="1388.83" cy="775.75" r="6.57" fill="#ffa500" stroke="#ffa500" stroke-width="2.19"/>
<circle cx="1439.78" cy="798" r="6.57" fill="#ffa500" stroke="#ffa500" stroke-width="2.19"/>
<circle cx="1490.73" cy="811.25" r="6.57" fill="#ffa500" stroke="#ffa500" stroke-width="2.19"/>
<circle cx="1541.68" cy="830.5" r="6.57" fill="#ffa500" stroke="#ffa500" stroke-width="2.19"/>
<circle cx="1592.62" cy="860.5" r="6.57" fill="#ffa500" stroke="#ffa500" stroke-width="2.19"/>
<polyline points="1439.78,766 1490.73,771.75 1541.68,775.75 1592.62,788.75 1643.57,810.75" stroke="#048080" stroke-width="3.29" fill="none" stroke-linejoin="round" stroke-linecap="butt"/>
<polygon points="1433.21,759.43 1446.35,759.43 1439.78,772.57" fill="#048080" stroke="#048080" stroke-width="2.19" stroke-linejoin="miter"/>
<polygon points="1484.16,765.18 1497.3,765.18 1490.73,778.32" fill="#048080" stroke="#048080" stroke-width="2.19" stroke-linejoin="miter"/>
<polygon points="1535.11,769.18 1548.25,769.18 1541.68,782.32" fill="#048080" stroke="#048080" stroke-width="2.19" stroke-linejoin="miter"/>
<polygon points="1586.05,782.18 1599.19,782.18 1592.62,795.32" fill="#048080" stroke="#048080" stroke-width="2.19" stroke-linejoin="miter"/>
<polygon points="1637,804.18 1650.14,804.18 1643.57,817.32" fill="#048080" stroke="#048080" stroke-width="2.19" stroke-linejoin="miter"/>
<polyline points="1490.73,771.25 1541.68,766.25 1592.62,770.75 1643.57,782.5 1694.52,798" stroke="#00ffff" stroke-width="3.29" fill="none" stroke-linejoin="round" stroke-linecap="butt"/>
<path d="M1484.16 764.68L1497.3 777.82M1484.16 777.82L1497.3 764.68" stroke="#00ffff" stroke-width="2.19" fill="none"/>
<path d="M1535.11 759.68L1548.25 772.82M1535.11 772.82L1548.25 759.68" stroke="#00ffff" stroke-width="2.19" fill="none"/>
<path d="M1586.05 764.18L1599.19 777.32M1586.05 777.32L1599.19 764.18" stroke="#00ffff" stroke-width="2.19" fill="none"/>
<path d="M1637 775.93L1650.14 789.07M1637 789.07L1650.14 775.93" stroke="#00ffff" stroke-width="2.19" fill="none"/>
<path d="M1687.95 791.43L1701.09 804.57M1687.95 804.57L1701.09 791.43" stroke="#00ffff" stroke-width="2.19" fill="none"/>
<polyline points="1541.68,770.5 1592.62,779.5 1643.57,790 1694.52,805 1745.47,832" stroke="#a0522d" stroke-width="3.29" fill="none" stroke-linejoin="round" stroke-linecap="butt"/>
<polygon points="1541.68,761.21 1547.25,770.5 1541.68,779.79 1536.1,770.5" fill="#a0522d" stroke="#a0522d" stroke-width="2.19" stroke-linejoin="miter"/>
<polygon points="1592.62,770.21 1598.2,779.5 1592.62,788.79 1587.05,779.5" fill="#a0522d" stroke="#a0522d" stroke-width="2.19" stroke-linejoin="miter"/>
<polygon points="1643.57,780.71 1649.15,790 1643.57,799.29 1638,790" fill="#a0522d" stroke="#a0522d" stroke-width="2.19" stroke-linejoin="miter"/>
<polygon points="1694.52,795.71 1700.09,805 1694.52,814.29 1688.95,805" fill="#a0522d" stroke="#a0522d" stroke-width="2.19" stroke-linejoin="miter"/>
<polygon points="1745.47,822.71 1751.04,832 1745.47,841.29 1739.89,832" fill="#a0522d" stroke="#a0522d" stroke-width="2.19" stroke-linejoin="miter"/>
<rect x="1371" y="722.7" width="392.3" height="483.9" fill="none" stroke="#000" stroke-width="1.75"/>
<text x="1567.15" y="710.3" font-size="26.28" text-anchor="middle" letter-spacing="0.4">(H): RNN - FNN</text>
<text x="1388.83" y="1242.8" font-size="26.28" text-anchor="middle">2</text>
<text x="1490.73" y="1242.8" font-size="26.28" text-anchor="middle">4</text>
<text x="1592.62" y="1242.8" font-size="26.28" text-anchor="middle">6</text>
<text x="1694.52" y="1242.8" font-size="26.28" text-anchor="middle">8</text>
<text x="1567.15" y="1277.5" font-size="26.28" text-anchor="middle">prediction time (years)</text>
</g>
</g>
</svg>
</body>
</html>
